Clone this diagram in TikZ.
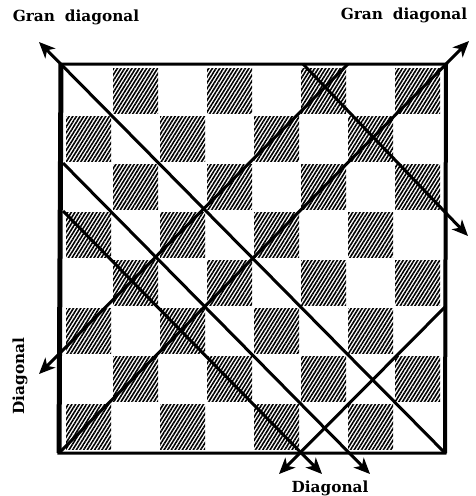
\documentclass[tikz,border=0pt]{standalone}
\usepackage{fontspec}
\setmainfont{DejaVu Serif}
\usetikzlibrary{arrows.meta,patterns.meta}
\tikzset{
  hatch/.style={pattern={Lines[angle=58,distance=3.1pt,line width=1.6pt]}},
  arr/.style={line width=3pt,-{Stealth[length=16pt,width=14pt,inset=4.5pt]}},
  lbl/.style={font=\fontsize{15.3}{15.3}\selectfont\bfseries,inner sep=0pt}
}
\begin{document}
\begin{tikzpicture}[x=1pt,y=-1pt]
\useasboundingbox (0,0) rectangle (475,496);
% board corners
\coordinate (TL) at (61,64);
\coordinate (TR) at (446,64);
\coordinate (BL) at (59,453);
\coordinate (BR) at (445,453);
% dark squares
\foreach \r in {0,...,7}{
  \foreach \c in {0,...,7}{
    \pgfmathtruncatemacro{\odd}{mod(\r+\c,2)}
    \ifnum\odd=1
      \fill[hatch] (66+47*\c,68+48*\r) rectangle ++(45,45);
    \fi
  }
}
% border
\draw[line width=3pt] (TL) -- (TR) -- (BR) -- (BL) -- cycle;
\draw[line width=5pt] (TL) -- (BL);
\draw[line width=4pt] (TR) -- (BR);
% line endpoints
\coordinate (Atip) at (39,42);
\coordinate (Etip) at (469,41);
\coordinate (Btop) at (303,64);
\coordinate (Btip) at (468,236);
\coordinate (Cleft) at (63,163);
\coordinate (Ctip) at (370,474);
\coordinate (Dleft) at (63,211);
\coordinate (Dtip) at (322,474);
\coordinate (Gright) at (446,306);
\coordinate (Gtip) at (279,474);
\coordinate (Ftop) at (348,64);
\coordinate (Ftip) at (39,374);
% diagonals
\draw[arr] (BR) -- (Atip);
\draw[arr] (BL) -- (Etip);
\draw[arr] (Btop) -- (Btip);
\draw[arr] (Cleft) -- (Ctip);
\draw[arr] (Dleft) -- (Dtip);
\draw[arr] (Gright) -- (Gtip);
\draw[arr] (Ftop) -- (Ftip);
% labels
\node[lbl] (gl) at (76,17) {Gran\hspace{10pt}diagonal};
\node[lbl] (gr) at (404,15) {Gran\hspace{10pt}diagonal};
\node[lbl] (db) at (330,488) {Diagonal};
\node[lbl,rotate=90] (dl) at (20,376) {Diagonal};
\end{tikzpicture}
\end{document}
